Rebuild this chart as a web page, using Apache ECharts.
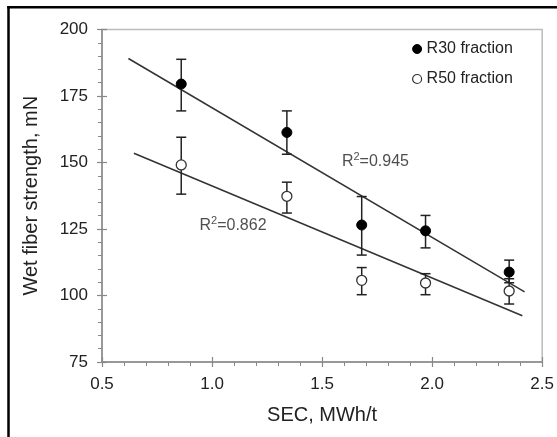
<!DOCTYPE html>
<html>
<head>
<meta charset="utf-8">
<script src="https://cdn.jsdelivr.net/npm/echarts@6/dist/echarts.min.js"></script>
<style>
html,body{margin:0;padding:0;background:#fff;}
#c{width:557px;height:437px;}
</style>
</head>
<body>
<div id="c"></div>
<script>
const secValues = [0.86, 1.34, 1.68, 1.97, 2.35];
const r30Mean = [179.5, 161.3, 126.5, 124.3, 108.8];
const r30Low  = [169.4, 153.1, 115.2, 117.9, 104.8];
const r30High = [188.8, 169.4, 137.2, 130.1, 113.3];
const r50Mean = [149.1, 137.3, 105.7, 104.7, 101.7];
const r50Low  = [138.1, 131.0, 100.3, 100.3, 96.8];
const r50High = [159.5, 142.6, 110.5, 108.2, 106.3];
const r30Fit = [[0.62, 189.1], [2.42, 101.4]];
const r50Fit = [[0.645, 153.5], [2.41, 92.4]];
const r2Labels = [[1.59, 150.8, '0.945'], [0.943, 126.7, '0.862']];
const xTicks = {min: 0.5, max: 2.5, interval: 0.5};
const yTicks = {min: 75, max: 200, interval: 25};

const FONT = 'Liberation Sans, Arial, sans-serif';
const chart = echarts.init(document.getElementById('c'), null, {renderer: 'canvas'});

function pts(xs, ys) { return xs.map((x, i) => [x, ys[i]]); }
function errData(xs, lo, hi) { return xs.map((x, i) => [x, lo[i], hi[i]]); }

function errRender(params, api) {
  const x = api.value(0);
  const lo = api.coord([x, api.value(1)]);
  const hi = api.coord([x, api.value(2)]);
  const cap = 5;
  const style = {stroke: '#222', lineWidth: 1.5};
  return {
    type: 'group',
    children: [
      {type: 'line', shape: {x1: lo[0], y1: lo[1], x2: hi[0], y2: hi[1]}, style},
      {type: 'line', shape: {x1: lo[0] - cap, y1: lo[1], x2: lo[0] + cap, y2: lo[1]}, style},
      {type: 'line', shape: {x1: hi[0] - cap, y1: hi[1], x2: hi[0] + cap, y2: hi[1]}, style}
    ]
  };
}

const axisColor = '#888';
const option = {
  animation: false,
  backgroundColor: '#fff',
  grid: {left: 102, right: 13, top: 29.5, bottom: 75, show: true, borderColor: '#bbb', borderWidth: 1.5, backgroundColor: 'transparent'},
  legend: {
    orient: 'vertical', left: 407, top: 36, itemWidth: 9, itemHeight: 9, itemGap: 14,
    textStyle: {fontFamily: FONT, fontSize: 16, color: '#222'},
    data: [
      {name: 'R30 fraction', icon: 'circle', itemStyle: {color: '#000', borderColor: '#000', borderWidth: 1}},
      {name: 'R50 fraction', icon: 'circle', itemStyle: {color: '#fff', borderColor: '#333', borderWidth: 1.2}}
    ]
  },
  xAxis: [{
    type: 'value', min: xTicks.min, max: xTicks.max, interval: xTicks.interval,
    name: 'SEC, MWh/t', nameLocation: 'middle', nameGap: 43,
    nameTextStyle: {fontFamily: FONT, fontSize: 20, color: '#222'},
    axisLine: {show: true, lineStyle: {color: axisColor, width: 1.5}},
    axisTick: {show: true, inside: false, length: 5, lineStyle: {color: axisColor, width: 1.2}},
    minorTick: {show: true, splitNumber: 5, length: 4, lineStyle: {color: axisColor, width: 1}},
    splitLine: {show: false},
    axisLabel: {margin: 14, fontFamily: FONT, fontSize: 17, color: '#222', formatter: v => v.toFixed(1)}
  }, {
    type: 'value', position: 'bottom', min: xTicks.min, max: xTicks.max, interval: xTicks.interval,
    axisLine: {show: false}, axisLabel: {show: false}, splitLine: {show: false},
    axisTick: {show: true, inside: true, length: 5, lineStyle: {color: axisColor, width: 1.2}}
  }],
  yAxis: [{
    type: 'value', min: yTicks.min, max: yTicks.max, interval: yTicks.interval,
    name: 'Wet fiber strength, mN', nameLocation: 'middle', nameGap: 61,
    nameTextStyle: {fontFamily: FONT, fontSize: 20, color: '#222'},
    axisLine: {show: true, lineStyle: {color: axisColor, width: 1.5}},
    axisTick: {show: true, inside: false, length: 5, lineStyle: {color: axisColor, width: 1.2}},
    minorTick: {show: true, splitNumber: 5, length: 4, lineStyle: {color: axisColor, width: 1}},
    splitLine: {show: false},
    axisLabel: {margin: 14, fontFamily: FONT, fontSize: 17, color: '#222'}
  }, {
    type: 'value', position: 'left', min: yTicks.min, max: yTicks.max, interval: yTicks.interval,
    axisLine: {show: false}, axisLabel: {show: false}, splitLine: {show: false},
    axisTick: {show: true, inside: true, length: 5, lineStyle: {color: axisColor, width: 1.2}}
  }],
  graphic: [
    {type: 'line', shape: {x1: 8.5, y1: 6, x2: 8.5, y2: 437}, style: {stroke: '#000', lineWidth: 2.5}, z: 100},
    {type: 'line', shape: {x1: 7.2, y1: 7.3, x2: 557, y2: 7.3}, style: {stroke: '#000', lineWidth: 2.5}, z: 100}
  ],
  series: [
    {type: 'line', data: r30Fit, symbol: 'none', lineStyle: {color: '#333', width: 1.5}, silent: true, z: 2},
    {type: 'line', data: r50Fit, symbol: 'none', lineStyle: {color: '#333', width: 1.5}, silent: true, z: 2},
    {type: 'custom', data: errData(secValues, r30Low, r30High), renderItem: errRender, z: 3},
    {type: 'custom', data: errData(secValues, r50Low, r50High), renderItem: errRender, z: 3},
    {name: 'R30 fraction', type: 'scatter', data: pts(secValues, r30Mean), symbol: 'circle', symbolSize: 10,
     itemStyle: {color: '#000', borderColor: '#000', borderWidth: 1, opacity: 1}, z: 5},
    {name: 'R50 fraction', type: 'scatter', data: pts(secValues, r50Mean), symbol: 'circle', symbolSize: 10,
     itemStyle: {color: '#fff', borderColor: '#333', borderWidth: 1.3, opacity: 1}, z: 5},
    {type: 'scatter', data: r2Labels, symbolSize: 0, silent: true, z: 6,
     label: {show: true, position: 'right', distance: 0, color: '#222',
             formatter: p => '{a|R}{s|2}{a|=' + p.value[2] + '}',
             rich: {
               a: {fontFamily: FONT, fontSize: 16, color: '#222', verticalAlign: 'bottom', lineHeight: 18},
               s: {fontFamily: FONT, fontSize: 11, color: '#222', verticalAlign: 'top', lineHeight: 18, padding: [0, 0, 0, 0]}
             }}}
  ]
};
chart.setOption(option);
</script>
</body>
</html>
